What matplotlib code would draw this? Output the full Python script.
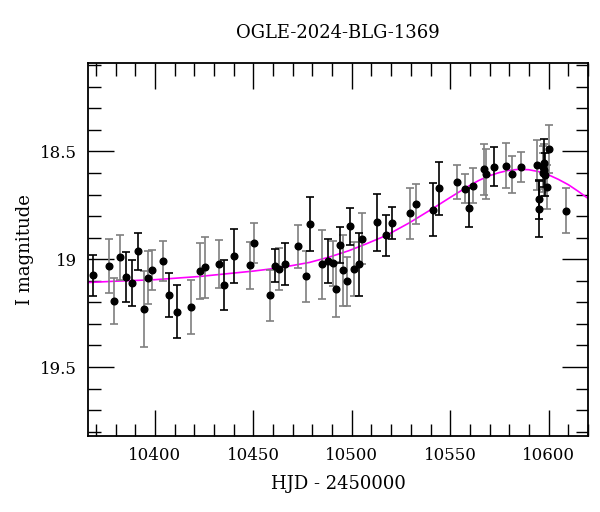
import matplotlib
matplotlib.use("Agg")
import matplotlib.pyplot as plt
from matplotlib.ticker import MultipleLocator

plt.rcParams['font.family'] = ['DejaVu Serif']

title = "OGLE-2024-BLG-1369"
xlabel = "HJD - 2450000"
ylabel = "I magnitude"

# Photometry (HJD-2450000, I mag, error, bar colour flag: 1=black, 0=gray)
hjd = [10368.5, 10376.7, 10379.4, 10382.4, 10385.5, 10388.4, 10391.4, 10394.3,
       10396.3, 10398.3, 10404.2, 10407.2, 10411.3, 10418.2, 10423.1, 10425.2,
       10432.4, 10435.1, 10440.0, 10448.1, 10450.1, 10458.2, 10460.9, 10463.1,
       10466.0, 10472.8, 10476.8, 10478.8, 10484.9, 10487.7, 10490.6, 10492.0,
       10493.8, 10495.7, 10497.6, 10498.9, 10500.9, 10503.5, 10505.0, 10512.6,
       10517.5, 10520.4, 10529.5, 10532.5, 10541.4, 10544.5, 10553.4, 10557.3,
       10559.3, 10561.4, 10567.2, 10568.3, 10572.3, 10578.2, 10581.3, 10586.2,
       10594.1, 10595.1, 10595.1, 10597.2, 10597.8, 10597.2, 10598.3, 10599.0,
       10600.0, 10597.6, 10609.0]
mag = [19.075, 19.031, 19.194, 18.991, 19.082, 19.111, 18.964, 19.230,
       19.087, 19.051, 19.008, 19.168, 19.244, 19.222, 19.054, 19.037,
       19.022, 19.119, 18.985, 19.028, 18.923, 19.168, 19.031, 19.046,
       19.023, 18.941, 19.080, 18.838, 19.023, 19.009, 19.019, 19.139,
       18.934, 19.051, 19.103, 18.847, 19.046, 19.023, 18.904, 18.829,
       18.890, 18.832, 18.788, 18.742, 18.770, 18.672, 18.641, 18.673,
       18.761, 18.659, 18.583, 18.606, 18.571, 18.566, 18.606, 18.574,
       18.565, 18.722, 18.769, 18.573, 18.554, 18.599, 18.608, 18.665,
       18.489, 18.588, 18.776]
err = [0.095, 0.127, 0.107, 0.104, 0.116, 0.107, 0.086, 0.176,
       0.123, 0.093, 0.093, 0.102, 0.123, 0.125, 0.130, 0.142,
       0.112, 0.115, 0.125, 0.108, 0.093, 0.120, 0.076, 0.099,
       0.096, 0.100, 0.117, 0.126, 0.160, 0.103, 0.105, 0.128,
       0.085, 0.165, 0.112, 0.085, 0.126, 0.146, 0.116, 0.131,
       0.094, 0.075, 0.119, 0.093, 0.122, 0.122, 0.079, 0.066,
       0.089, 0.081, 0.117, 0.115, 0.090, 0.105, 0.086, 0.070,
       0.116, 0.090, 0.130, 0.100, 0.110, 0.090, 0.100, 0.100,
       0.110, 0.120, 0.104]
black = [1, 0, 0, 0, 1, 1, 1, 0,
         0, 0, 0, 1, 1, 0, 0, 0,
         0, 1, 1, 0, 0, 0, 1, 0,
         1, 0, 0, 1, 0, 1, 0, 0,
         1, 0, 0, 1, 0, 1, 0, 1,
         1, 1, 0, 0, 1, 1, 0, 0,
         1, 0, 0, 0, 1, 0, 0, 0,
         0, 1, 1, 0, 1, 0, 1, 0,
         0, 0, 0]

# Model curve
model_t = [10366.1, 10380.0, 10400.0, 10422.8, 10450.1, 10463.3, 10478.5,
           10488.6, 10498.7, 10507.3, 10517.5, 10529.1, 10541.3, 10549.4,
           10559.5, 10564.5, 10569.6, 10574.6, 10579.7, 10585.0, 10589.9,
           10595.0, 10600.0, 10605.0, 10610.1, 10615.0, 10620.0]
model_m = [19.108, 19.102, 19.095, 19.080, 19.055, 19.040, 19.015,
           18.990, 18.960, 18.929, 18.890, 18.832, 18.764, 18.717,
           18.660, 18.635, 18.614, 18.599, 18.588, 18.583, 18.585,
           18.594, 18.609, 18.630, 18.655, 18.685, 18.718]

fig = plt.figure(figsize=(6.0, 5.12), dpi=100)
ax = fig.add_axes([0.1467, 0.1484, 0.8333, 0.7286])

ax.plot(model_t, model_m, color='#ff00ff', lw=1.2, zorder=2)

for flag, col in ((0, '#7f7f7f'), (1, 'black')):
    t = [h for h, b in zip(hjd, black) if b == flag]
    m = [v for v, b in zip(mag, black) if b == flag]
    e = [v for v, b in zip(err, black) if b == flag]
    ax.errorbar(t, m, yerr=e, fmt='none', ecolor=col, elinewidth=1.2,
                capsize=2.8, capthick=1.2, zorder=3)
ax.plot(hjd, mag, 'o', color='black', ms=4.8, zorder=4)

ax.set_xlim(10366, 10620)
ax.set_ylim(19.82, 18.09)
ax.xaxis.set_major_locator(MultipleLocator(50))
ax.xaxis.set_minor_locator(MultipleLocator(10))
ax.yaxis.set_major_locator(MultipleLocator(0.5))
ax.yaxis.set_minor_locator(MultipleLocator(0.1))
ax.set_yticks([18.5, 19.0, 19.5])
ax.set_yticklabels(['18.5', '19', '19.5'])
ax.tick_params(which='both', direction='in', top=True, right=True,
               labelsize=12, width=1.0, pad=8)
ax.tick_params(which='major', length=19)
ax.tick_params(which='minor', length=9)
for s in ax.spines.values():
    s.set_linewidth(1.3)

ax.set_title(title, fontsize=13, pad=18)
ax.set_xlabel(xlabel, fontsize=13, labelpad=8)
ax.set_ylabel(ylabel, fontsize=13, labelpad=4)

fig.savefig('out.png', dpi=100)
